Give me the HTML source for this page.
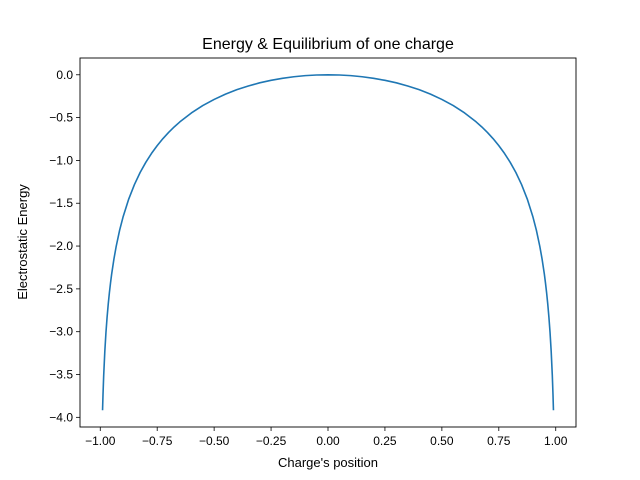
<!DOCTYPE html>
<html><head><meta charset="utf-8"><style>
body{margin:0;background:#fff;}
svg{display:block;font-family:"Liberation Sans","DejaVu Sans",sans-serif;}
</style></head><body>
<svg id="chart" width="640" height="480">
<rect width="640" height="480" fill="#fff"/>
<text x="328" y="49" font-size="16" text-anchor="middle">Energy &amp; Equilibrium of one charge</text>
<text x="328" y="467" font-size="13" text-anchor="middle">Charge's position</text>
<text transform="translate(27,242) rotate(-90)" font-size="13" text-anchor="middle">Electrostatic Energy</text>
<g id="ticks"></g>
<polyline id="curve" fill="none" stroke="#1f77b4" stroke-width="1.6" stroke-linejoin="round"/>
<rect x="80" y="58" width="496" height="369" fill="none" stroke="#000" stroke-width="0.9"/>
</svg>
<script>
const xs=[-0.99,-0.988,-0.985,-0.98,-0.975,-0.97,-0.965,-0.96,-0.955,-0.95,-0.94,-0.93,-0.915,-0.9,-0.875,-0.85,-0.825,-0.8,-0.775,-0.75,-0.725,-0.7,-0.675,-0.65,-0.6,-0.55,-0.5,-0.45,-0.4,-0.35,-0.3,-0.25,-0.2,-0.15,-0.1,-0.05,0,0.05,0.1,0.15,0.2,0.25,0.3,0.35,0.4,0.45,0.5,0.55,0.6,0.65,0.675,0.7,0.725,0.75,0.775,0.8,0.825,0.85,0.875,0.9,0.915,0.93,0.94,0.95,0.955,0.96,0.965,0.97,0.975,0.98,0.985,0.988,0.99];
const ys=[-3.917,-3.736,-3.514,-3.229,-3.008,-2.829,-2.677,-2.546,-2.431,-2.328,-2.151,-2.002,-1.815,-1.661,-1.451,-1.282,-1.141,-1.022,-0.918,-0.827,-0.746,-0.673,-0.608,-0.549,-0.446,-0.360,-0.288,-0.226,-0.174,-0.131,-0.094,-0.065,-0.041,-0.023,-0.010,-0.0025,0,-0.0025,-0.010,-0.023,-0.041,-0.065,-0.094,-0.131,-0.174,-0.226,-0.288,-0.360,-0.446,-0.549,-0.608,-0.673,-0.746,-0.827,-0.918,-1.022,-1.141,-1.282,-1.451,-1.661,-1.815,-2.002,-2.151,-2.328,-2.431,-2.546,-2.677,-2.829,-3.008,-3.229,-3.514,-3.736,-3.917];
const xTicks=[-1,-0.75,-0.5,-0.25,0,0.25,0.5,0.75,1];
const xTickLabels=["−1.00","−0.75","−0.50","−0.25","0.00","0.25","0.50","0.75","1.00"];
const yTicks=[0,-0.5,-1,-1.5,-2,-2.5,-3,-3.5,-4];
const yTickLabels=["0.0","−0.5","−1.0","−1.5","−2.0","−2.5","−3.0","−3.5","−4.0"];
const L=80,R=576,T=58,B=427;
const xmin=Math.min(...xs),xmax=Math.max(...xs),ymin=Math.min(...ys),ymax=Math.max(...ys);
const xm=(xmax-xmin)*0.05,ym=(ymax-ymin)*0.05;
const X=v=>L+(v-(xmin-xm))/((xmax+xm)-(xmin-xm))*(R-L);
const Y=v=>B-(v-(ymin-ym))/((ymax+ym)-(ymin-ym))*(B-T);
const NS="http://www.w3.org/2000/svg";
const g=document.getElementById('ticks');
function mk(tag,attrs){const e=document.createElementNS(NS,tag);for(const k in attrs)e.setAttribute(k,attrs[k]);return e;}
xTicks.forEach((t,i)=>{
  const l=mk('line',{x1:X(t),x2:X(t),y1:B,y2:B+4,stroke:'#000','stroke-width':0.8});
  
  
  g.appendChild(l);
  const tx=mk('text',{x:X(t),y:B+18,'font-size':12,'text-anchor':'middle'});
  tx.textContent=xTickLabels[i];
  
  
  g.appendChild(tx);
});
yTicks.forEach((t,i)=>{
  const l=mk('line',{x1:L-4,x2:L,y1:Y(t),y2:Y(t),stroke:'#000','stroke-width':0.8});
  
  
  g.appendChild(l);
  const tx=mk('text',{x:L-7,y:Y(t)+4,'font-size':12,'text-anchor':'end'});
  tx.textContent=yTickLabels[i];
  
  
  g.appendChild(tx);
});
document.getElementById('curve').setAttribute('points',xs.map((x,i)=>X(x).toFixed(2)+','+Y(ys[i]).toFixed(2)).join(' '));
</script>
</body></html>
